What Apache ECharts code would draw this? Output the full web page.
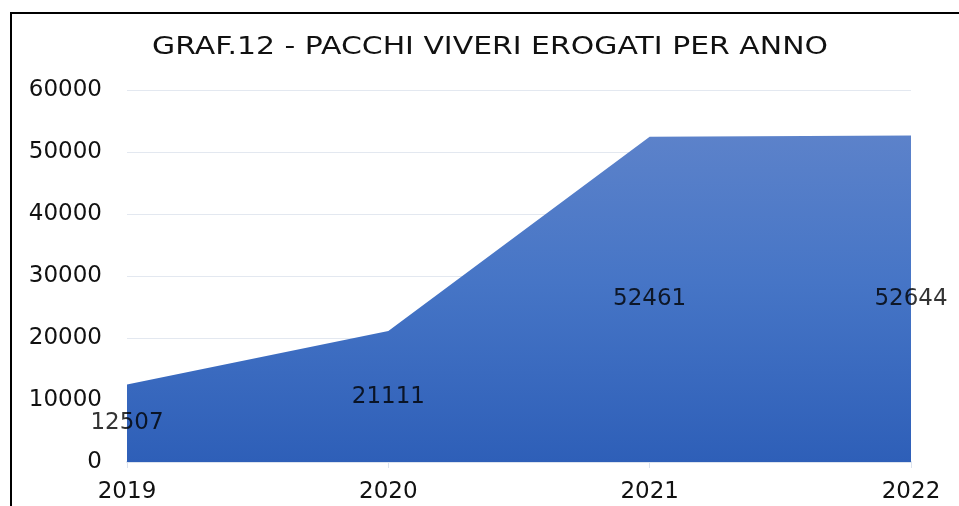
<!DOCTYPE html>
<html>
<head>
<meta charset="utf-8">
<script src="https://cdn.jsdelivr.net/npm/echarts@6/dist/echarts.min.js"></script>
<style>
  html, body { margin: 0; padding: 0; background: #fff; }
  #chart { position: absolute; left: 0; top: 0; width: 959px; height: 506px; }
  #frame { position: absolute; left: 10px; top: 12px; width: 980px; height: 520px;
           border: 2px solid #000; pointer-events: none; }
</style>
</head>
<body>
<div id="chart"></div>
<div id="frame"></div>
<script>
var titleText = 'GRAF.12 - PACCHI VIVERI EROGATI PER ANNO';
var years = ['2019', '2020', '2021', '2022'];
var pacchi = [12507, 21111, 52461, 52644];
var yTicks = [0, 10000, 20000, 30000, 40000, 50000, 60000];

// labels sit halfway up the filled area
var labelPoints = pacchi.map(function (v) { return v / 2; });

var chart = echarts.init(document.getElementById('chart'));
var font = 'DejaVu Sans';

var option = {
    animation: false,
    // title drawn as graphic text so it can be stretched wide like the original
    graphic: [{
        type: 'text',
        x: 490,
        y: 48,
        scaleX: 1.22,
        style: {
            text: titleText,
            font: '24.5px "DejaVu Sans"',
            fill: '#111',
            align: 'center',
            verticalAlign: 'middle'
        }
    }],
    grid: { left: 127, right: 48, top: 90, bottom: 44 },
    xAxis: {
        type: 'category',
        data: years,
        boundaryGap: false,
        axisLine: { lineStyle: { color: '#dce3ee', width: 2 } },
        axisTick: { show: true, alignWithLabel: true, length: 6, lineStyle: { color: '#dce3ee' } },
        axisLabel: { fontFamily: font, fontSize: 23, color: '#111', margin: 19 }
    },
    yAxis: {
        type: 'value',
        min: yTicks[0],
        max: yTicks[yTicks.length - 1],
        interval: 10000,
        axisLine: { show: false },
        axisTick: { show: false },
        splitLine: { lineStyle: { color: '#e3e8f0', width: 1 } },
        axisLabel: {
            fontFamily: font, fontSize: 23, color: '#111', margin: 25,
            formatter: function (v) { return String(v); }
        }
    },
    series: [
        {
            type: 'line',
            data: pacchi,
            symbol: 'none',
            lineStyle: { width: 0 },
            areaStyle: {
                opacity: 1,
                color: new echarts.graphic.LinearGradient(0, 0, 0, 1, [
                    { offset: 0, color: '#5c82ca' },
                    { offset: 0.45, color: '#4675c6' },
                    { offset: 1, color: '#2e5fb8' }
                ])
            },
            z: 2
        },
        {
            type: 'scatter',
            data: labelPoints,
            symbolSize: 0,
            silent: true,
            label: {
                show: true,
                position: 'inside',
                fontFamily: font,
                fontSize: 23,
                color: '#000',
                formatter: function (p) { return String(pacchi[p.dataIndex]); }
            },
            z: 5
        }
    ]
};
chart.setOption(option);
</script>
</body>
</html>
